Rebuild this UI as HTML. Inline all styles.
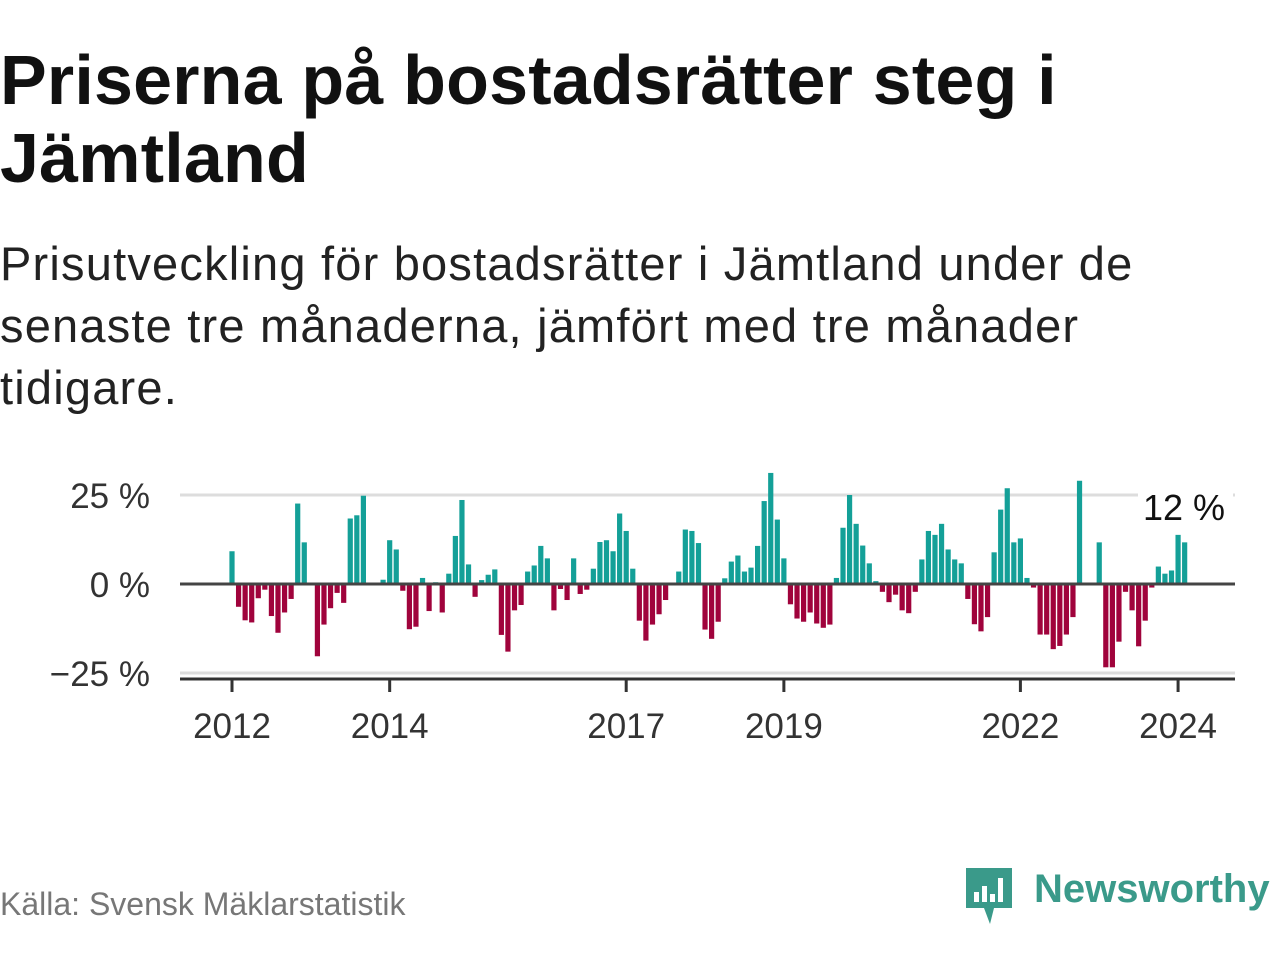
<!DOCTYPE html>
<html><head><meta charset="utf-8"><style>
body{margin:0;background:#fff;width:1280px;height:960px;overflow:hidden;font-family:"Liberation Sans",sans-serif;}
#title{position:absolute;left:0;top:41px;font-weight:bold;font-size:70px;line-height:78px;color:#111;letter-spacing:0.2px;margin:0;white-space:nowrap}
#sub{position:absolute;left:0;top:233px;font-size:47px;line-height:62px;color:#222;margin:0;width:1200px;letter-spacing:1.2px}
#src{position:absolute;left:0;top:886px;font-size:32px;color:#777}
#logo{position:absolute;left:964px;top:862px}
</style></head><body>
<h1 id="title">Priserna på bostadsrätter steg i<br>Jämtland</h1>
<p id="sub">Prisutveckling för bostadsrätter i Jämtland under de senaste tre månaderna, jämfört med tre månader tidigare.</p>
<svg id="chart" width="1280" height="960" style="position:absolute;left:0;top:0" xmlns="http://www.w3.org/2000/svg"></svg>
<div id="src">Källa: Svensk Mäklarstatistik</div>
<div id="logo">
<svg width="316" height="64"><path d="M2 6h46v40h-18l-4 16l-6-16h-18z" fill="#3a9a8a"/><rect x="10" y="30" width="5" height="10" fill="#fff"/><rect x="18" y="24" width="5" height="16" fill="#fff"/><rect x="26" y="32" width="5" height="8" fill="#fff"/><rect x="34" y="16" width="5" height="24" fill="#fff"/>
<text x="70" y="40" font-family="Liberation Sans" font-weight="bold" font-size="40" fill="#3a9a8a">Newsworthy</text></svg></div>
<script>
const values=[9.2,-6.4,-10.2,-10.8,-4,-1.6,-9,-13.7,-8,-4.2,22.6,11.7,0,-20.3,-11.4,-6.8,-2.5,-5.3,18.4,19.3,24.8,0,0.4,1.2,
12.3,9.7,-1.9,-12.7,-12,1.7,-7.6,0.5,-8,2.9,13.5,23.6,5.5,-3.6,1.1,2.6,4.1,-14.3,-19,-7.4,-5.9,3.5,5.2,10.7,
7.2,-7.4,-1.4,-4.5,7.2,-2.8,-1.6,4.3,11.8,12.3,9.2,19.8,14.9,4.3,-10.3,-15.9,-11.4,-8.5,-4.5,0,3.5,15.3,14.9,11.5,
-12.8,-15.4,-10.6,1.6,6.3,8,3.5,4.6,10.7,23.3,31.2,18.1,7.2,-5.7,-9.7,-10.6,-8,-11.1,-12.3,-11.4,1.7,15.8,25,16.9,
10.8,5.8,0.8,-2.2,-5.1,-3,-7.4,-8.2,-2.2,6.9,14.9,13.8,16.9,9.7,6.9,5.8,-4.2,-11.3,-13.3,-9.3,8.9,20.9,26.9,11.7,
12.8,1.7,-1,-14.2,-14.2,-18.3,-17.4,-14.2,-9.3,29,0,0,11.7,-23.4,-23.4,-16.2,-2.2,-7.4,-17.5,-10.3,-1,4.9,2.9,3.8,13.8,11.7];
const yTicks=[25,0,-25];
const yTickLabels=["25 %","0 %","\u221225 %"];
const xYears=[2012,2014,2017,2019,2022,2024];
const startYear=2012;
const lastLabel="12 %";
const svg=document.getElementById('chart');const NS="http://www.w3.org/2000/svg";
const x0=232,monthW=6.57,zeroY=584,pxPer=3.56;
const xs=m=>x0+m*monthW; const ys=v=>zeroY-v*pxPer;
function el(t,a){const e=document.createElementNS(NS,t);for(const k in a)e.setAttribute(k,a[k]);svg.appendChild(e);return e;}
yTicks.forEach((t,i)=>{
 if(t!==0){const g=el('line',{x1:180,x2:1235,y1:ys(t),y2:ys(t),stroke:'#ddd','stroke-width':3});
 
 }
 const l=el('text',{x:150,y:ys(t)+13,'text-anchor':'end','font-size':35,fill:'#333','font-family':'Liberation Sans'});
 
 
 l.textContent=yTickLabels[i];
});
values.forEach((v,i)=>{
 const y=Math.min(ys(v),zeroY),h=Math.abs(v)*pxPer;
 const r=el('rect',{x:xs(i)-2.6,y:y,width:5.2,height:h,fill:v>=0?'#14a098':'#a0033c'});
 
 
});
const z=el('line',{x1:180,x2:1235,y1:zeroY,y2:zeroY,stroke:'#444','stroke-width':3});


const ax=el('line',{x1:180,x2:1235,y1:679,y2:679,stroke:'#333','stroke-width':3});


xYears.forEach(yr=>{const x=xs((yr-startYear)*12);
 const t=el('line',{x1:x,x2:x,y1:679,y2:692,stroke:'#333','stroke-width':3});
 
 
 const l=el('text',{x:x,y:738,'text-anchor':'middle','font-size':35,fill:'#333','font-family':'Liberation Sans'});
 
 
 l.textContent=yr;});
const bg=el('rect',{x:1138,y:480,width:95,height:44,fill:'#fff'});


const ll=el('text',{x:1225,y:520,'text-anchor':'end','font-size':36,fill:'#111','font-family':'Liberation Sans'});


ll.textContent=lastLabel;
</script>
</body></html>
